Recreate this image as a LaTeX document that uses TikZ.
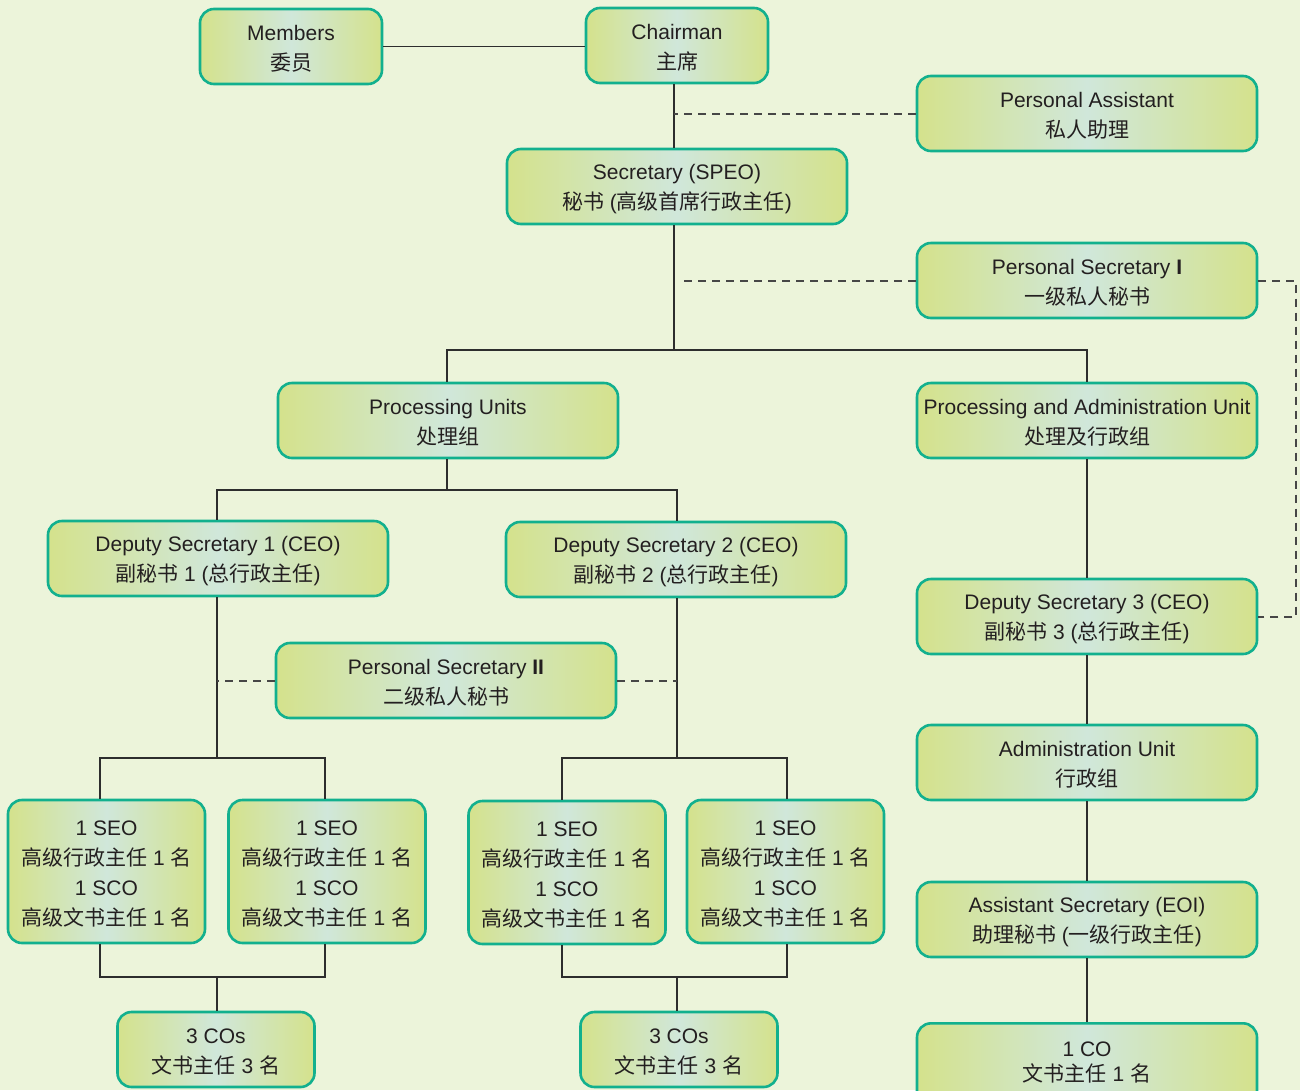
\documentclass[tikz,border=0pt]{standalone}
\usepackage{fontspec}
\setmainfont{Liberation Sans}
\newfontfamily\cjk{Noto Sans CJK SC}
\newcommand{\zh}[1]{{\cjk #1}}
\newcommand{\tstrut}{\rule{0pt}{19.5pt}}
\definecolor{bgcol}{RGB}{236,244,218}
\definecolor{bordercol}{RGB}{18,176,142}
\definecolor{edgefill}{RGB}{212,226,140}
\definecolor{midfill}{RGB}{208,231,218}
\definecolor{txtcol}{RGB}{35,31,32}
\definecolor{linecol}{RGB}{45,45,45}
\definecolor{dashcol}{RGB}{70,70,70}
\tikzset{
  box/.style={draw=bordercol, line width=2.6pt, rounded corners=14pt,
    left color=edgefill, right color=edgefill, middle color=midfill,
    minimum width=340pt, minimum height=75pt, align=center, inner sep=0pt,
    text=txtcol, font=\fontsize{21}{30}\selectfont},
  smallbox/.style={box, minimum width=197pt},
  conn/.style={draw=linecol, line width=1.4pt},
  dconn/.style={draw=dashcol, line width=2pt, dash pattern=on 8pt off 6pt}
}
\begin{document}
\begin{tikzpicture}[x=1pt,y=-1pt]
\fill[bgcol] (0,0) rectangle (1300,1090);
\useasboundingbox (0,0) rectangle (1300,1090);

% nodes
\node[box, minimum width=182pt] (members) at (291,46.5) {\tstrut Members\\\zh{委员}};
\node[box, minimum width=182pt] (chairman) at (677,45.5) {\tstrut Chairman\\\zh{主席}};
\node[box] (pa) at (1087,113.5) {\tstrut Personal Assistant\\\zh{私人助理}};
\node[box] (sec) at (677,186.5) {\tstrut Secretary (SPEO)\\\zh{秘书} (\zh{高级首席行政主任})};
\node[box] (ps1) at (1087,280.5) {\tstrut Personal Secretary \textbf{I}\\\zh{一级私人秘书}};
\node[box] (pu) at (448,420.5) {\tstrut Processing Units\\\zh{处理组}};
\node[box] (pau) at (1087,420.5) {\tstrut Processing and Administration Unit\\\zh{处理及行政组}};
\node[box] (ds1) at (218,558.5) {\tstrut Deputy Secretary 1 (CEO)\\\zh{副秘书} 1 (\zh{总行政主任})};
\node[box] (ds2) at (676,559.5) {\tstrut Deputy Secretary 2 (CEO)\\\zh{副秘书} 2 (\zh{总行政主任})};
\node[box] (ds3) at (1087,616.5) {\tstrut Deputy Secretary 3 (CEO)\\\zh{副秘书} 3 (\zh{总行政主任})};
\node[box] (ps2) at (446,680.5) {\tstrut Personal Secretary \textbf{II}\\\zh{二级私人秘书}};
\node[box] (adm) at (1087,762.5) {\tstrut Administration Unit\\\zh{行政组}};
\node[box] (asst) at (1087,919.5) {\tstrut Assistant Secretary (EOI)\\\zh{助理秘书} (\zh{一级行政主任})};
\node[box, anchor=north, minimum height=0pt, inner ysep=19pt, font=\fontsize{21}{25}\selectfont] (co) at (1087,1022) {1 CO\\\zh{文书主任} 1 \zh{名}\\[12pt]\mbox{}};

\node[smallbox, minimum height=143pt] (seo1) at (106.5,871.5) {\tstrut 1 SEO\\\zh{高级行政主任} 1 \zh{名}\\1 SCO\\\zh{高级文书主任} 1 \zh{名}};
\node[smallbox, minimum height=143pt] (seo2) at (327,871.5) {\tstrut 1 SEO\\\zh{高级行政主任} 1 \zh{名}\\1 SCO\\\zh{高级文书主任} 1 \zh{名}};
\node[smallbox, minimum height=143pt] (seo3) at (567,872.5) {\tstrut 1 SEO\\\zh{高级行政主任} 1 \zh{名}\\1 SCO\\\zh{高级文书主任} 1 \zh{名}};
\node[smallbox, minimum height=143pt] (seo4) at (785.5,871.5) {\tstrut 1 SEO\\\zh{高级行政主任} 1 \zh{名}\\1 SCO\\\zh{高级文书主任} 1 \zh{名}};

\node[smallbox] (cos1) at (216,1049.5) {\tstrut 3 COs\\\zh{文书主任} 3 \zh{名}};
\node[smallbox] (cos2) at (679,1049.5) {\tstrut 3 COs\\\zh{文书主任} 3 \zh{名}};

% bus coordinates
\coordinate (b1) at (674,350);
\coordinate (b2) at (447,490);
\coordinate (b3) at (217,758);
\coordinate (b4) at (677,758);
\coordinate (b5) at (217,977);
\coordinate (b6) at (677,977);
\coordinate (lx1) at (100,800);
\coordinate (lx2) at (325,800);
\coordinate (lx3) at (562,800);
\coordinate (lx4) at (787,800);

% connectors
\draw[conn] (members.east) -- (members.east -| chairman.west);
\draw[conn] (chairman.south -| b1) -- (sec.north -| b1);
\draw[dconn] (pa.west) -- (pa.west -| b1);
\draw[conn] (sec.south -| b1) -- (b1);
\draw[dconn] (ps1.west) -- ([xshift=5pt]ps1.west -| b1);
\draw[conn] (pu.north -| b2) |- (b1) -| (pau.north);
\draw[conn] (pau.south) -- (ds3.north);
\draw[dconn] (ps1.east) -- ++(38,0) |- (ds3.east);
\draw[conn] (ds3.south) -- (adm.north);
\draw[conn] (adm.south) -- (asst.north);
\draw[conn] (asst.south) -- (co.north);
\draw[conn] (pu.south -| b2) -- (b2);
\draw[conn] (ds1.north -| b3) |- (b2) -| (ds2.north -| b4);
\draw[conn] (ds1.south -| b3) -- (b3);
\draw[conn] (ds2.south -| b4) -- (b4);
\draw[dconn] (ps2.west) -- (ps2.west -| b3);
\draw[dconn] (ps2.east) -- (ps2.east -| b4);
\draw[conn] (seo1.north -| lx1) |- (b3) -| (seo2.north -| lx2);
\draw[conn] (seo3.north -| lx3) |- (b4) -| (seo4.north -| lx4);
\draw[conn] (seo1.south -| lx1) |- (b5) -| (seo2.south -| lx2);
\draw[conn] (seo3.south -| lx3) |- (b6) -| (seo4.south -| lx4);
\draw[conn] (b5) -- (cos1.north -| b5);
\draw[conn] (b6) -- (cos2.north -| b6);
\end{tikzpicture}
\end{document}
